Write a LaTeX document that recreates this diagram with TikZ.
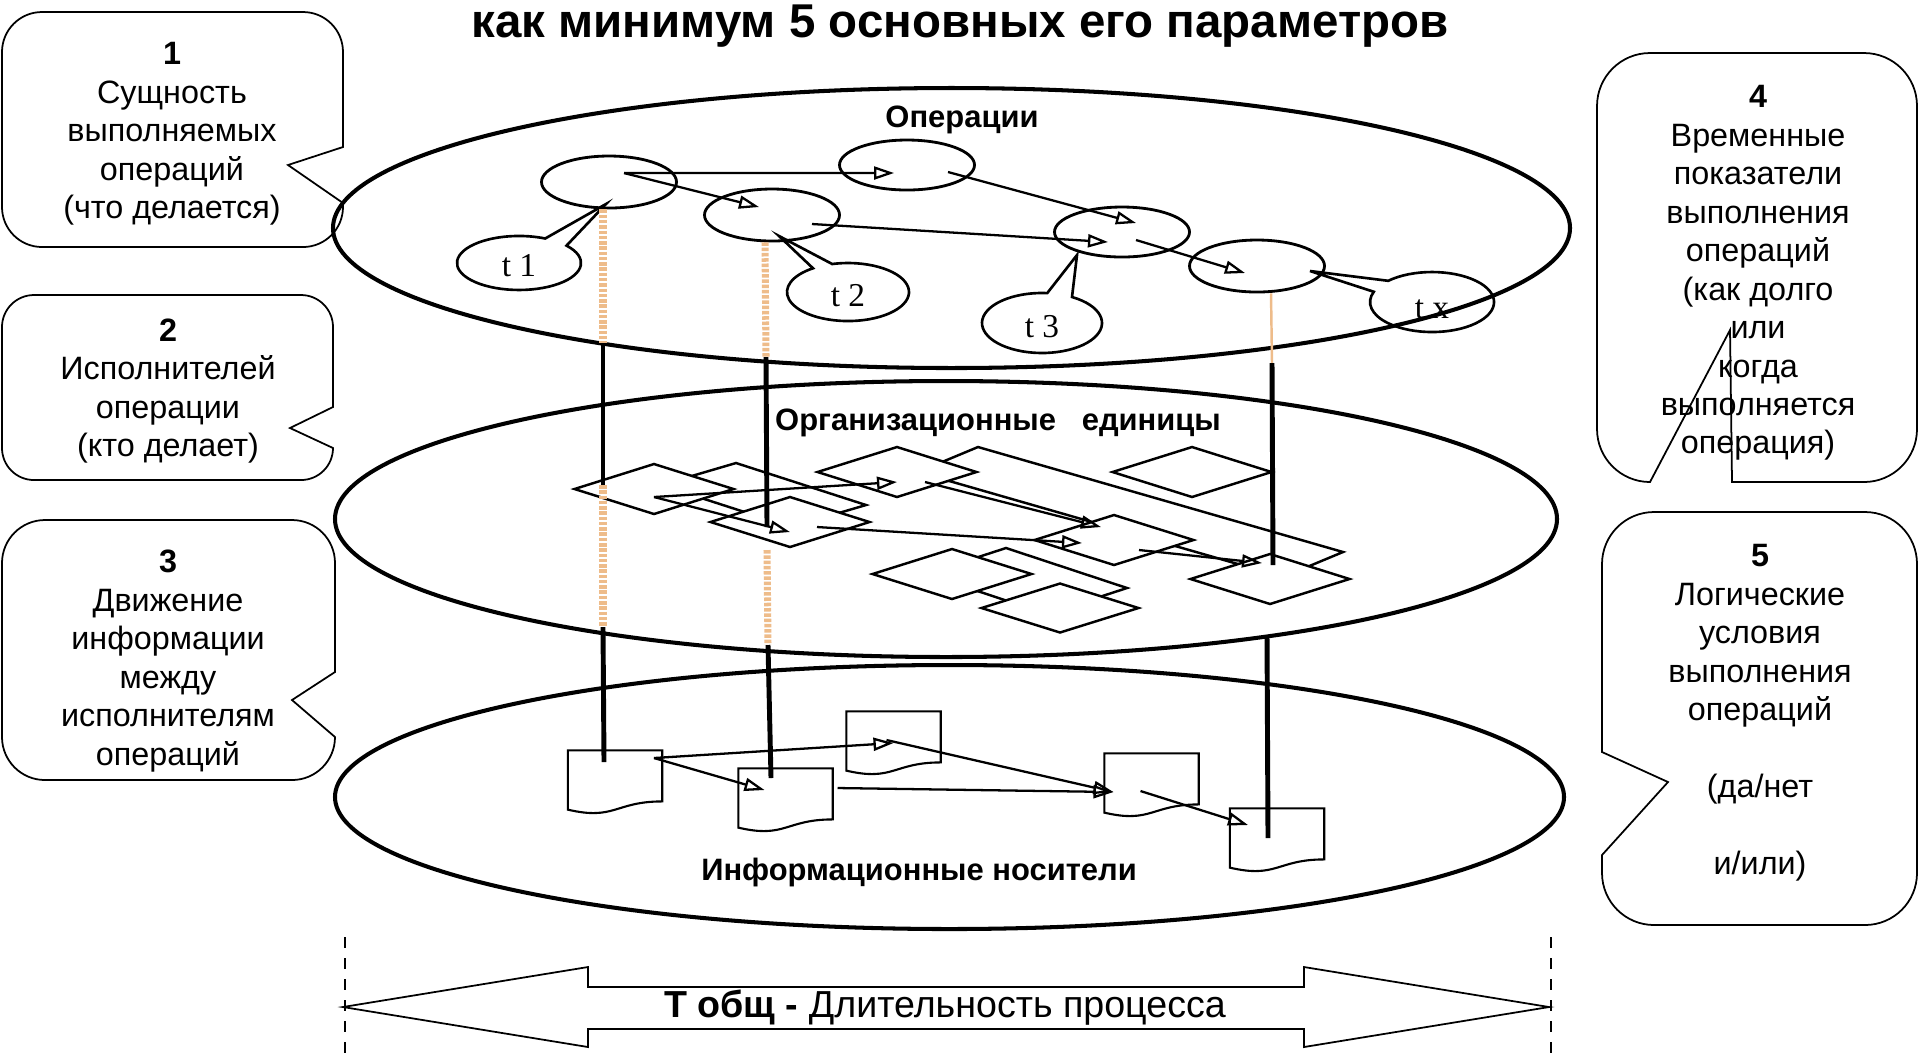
\documentclass[tikz,border=0pt]{standalone}
\usepackage{fontspec}
\setmainfont{Liberation Sans}
\newfontfamily\tfont{Liberation Serif}
\usetikzlibrary{shapes.geometric, arrows.meta}
\definecolor{linkpeach}{RGB}{238,188,138}

\begin{document}
\begin{tikzpicture}[x=1cm, y=-1cm,
    plane/.style={ellipse, draw, line width=1.15pt, inner sep=0pt},
    oper/.style={ellipse, draw, line width=0.8pt, minimum width=1.35cm, minimum height=0.52cm, inner sep=0pt},
    orgunit/.style={diamond, draw, fill=white, line width=0.7pt, minimum width=1.6cm, minimum height=0.51cm, inner sep=0pt},
    sheet/.style={draw=none, minimum width=0.93cm, minimum height=0.62cm, inner sep=0pt},
    cbox/.style={draw, line width=0.5pt},
    tcall/.style={draw, line width=0.75pt},
    flow/.style={-{Triangle[open, length=0.2cm, width=0.13cm]}, line width=0.65pt},
    tie/.style={line width=1.4pt},
    tieweak/.style={linkpeach, line width=2pt, dash pattern=on 1pt off 0.5pt},
    boxtext/.style={align=center, font=\fontsize{9.2}{10.95}\selectfont},
    laylabel/.style={anchor=base, font=\fontsize{8.8}{10}\selectfont\bfseries},
    tlabel/.style={font=\fontsize{9.5}{11}\selectfont\tfont}
]
\useasboundingbox (0,0) rectangle (19.2,10.58);
\clip (0,0) rectangle (19.2,10.58);

% title
\node[anchor=base, font=\fontsize{13.5}{16}\selectfont\bfseries] (title) at (9.60,0.37)
    {как минимум 5 основных его параметров};

% the three planes
\node[plane, minimum width=12.37cm, minimum height=2.80cm] (lay1) at (9.515,2.28) {};
\node[plane, minimum width=12.22cm, minimum height=2.76cm] (lay2) at (9.46,5.19) {};
\node[plane, minimum width=12.29cm, minimum height=2.64cm] (lay3) at (9.495,7.97) {};

% organisational units (back ones first)
\draw[fill=white, line width=0.7pt] (9.78,4.47) -- (13.43,5.52) -- (12.83,5.77) -- (9.18,4.72) -- cycle;
\draw[fill=white, line width=0.7pt] (7.36,4.63) -- (8.66,5.05) -- (7.91,5.27) -- (6.61,4.85) -- cycle;
\draw[fill=white, line width=0.7pt] (10.06,5.48) -- (11.27,5.88) -- (10.47,6.14) -- (9.26,5.74) -- cycle;
\node[orgunit] (ou1) at (6.54,4.89) {};
\node[orgunit] (ou3) at (7.90,5.22) {};
\node[orgunit] (ouD) at (8.97,4.72) {};
\node[orgunit] (ouG) at (11.92,4.72) {};
\node[orgunit] (ouH) at (11.14,5.40) {};
\node[orgunit] (ouF) at (12.70,5.79) {};
\node[orgunit] (ouJ) at (9.52,5.74) {};
\node[orgunit, minimum width=1.58cm, minimum height=0.50cm] (ouM) at (10.60,6.08) {};

% information carriers
\node[sheet] (d1) at (6.15,7.82) {};
\node[sheet] (d2) at (7.855,8.00) {};
\node[sheet] (d3) at (8.935,7.43) {};
\node[sheet] (d4) at (11.515,7.85) {};
\node[sheet] (d5) at (12.77,8.40) {};
\foreach \d in {d1,d2,d3,d4,d5}
  \draw[line width=0.6pt] (\d.north west) -- (\d.north east) -- ([yshift=0.123cm]\d.south east)
    .. controls ([yshift=0.123cm]\d.south) and ([yshift=-0.07cm]\d.south) .. ([yshift=0.041cm]\d.south west) -- cycle;

% operations
\node[oper] (op1) at (6.09,1.82) {};
\node[oper, minimum height=0.50cm] (op2) at (9.07,1.65) {};
\node[oper] (op3) at (7.72,2.15) {};
\node[oper, minimum height=0.50cm] (op4) at (11.22,2.32) {};
\node[oper] (op5) at (12.57,2.66) {};

% time callouts
\draw[tcall] (5.665,2.456) arc[start angle=-40, end angle=295, x radius=0.62, y radius=0.27] -- (6.06,2.04) -- cycle;
\draw[tcall] (8.322,2.640) arc[start angle=255, end angle=595, x radius=0.61, y radius=0.29] -- (7.79,2.36) -- cycle;
\draw[tcall] (10.72,2.970) arc[start angle=300, end angle=635, x radius=0.60, y radius=0.30] -- (10.77,2.55) -- cycle;
\draw[tcall] (13.882,2.808) arc[start angle=225, end angle=560, x radius=0.62, y radius=0.30] -- (13.10,2.71) -- cycle;
\node[tlabel] (t1) at (5.19,2.66) {t 1};
\node[tlabel] (t2) at (8.48,2.96) {t 2};
\node[tlabel] (t3) at (10.42,3.27) {t 3};
\node[tlabel] (tx) at (14.32,3.09) {t x};

% flows between operations
\draw[flow] ([xshift=0.15cm,yshift=0.09cm]op1.center) -- ([xshift=-0.13cm,yshift=-0.08cm]op2.center);
\draw[flow] ([xshift=0.15cm,yshift=0.09cm]op1.center) -- ([xshift=-0.13cm,yshift=0.08cm]op3.center);
\draw[flow] ([xshift=0.40cm,yshift=-0.09cm]op3.center) -- ([xshift=-0.14cm,yshift=-0.10cm]op4.center);
\draw[flow] ([xshift=0.41cm,yshift=-0.07cm]op2.center) -- ([xshift=0.14cm,yshift=0.09cm]op4.center);
\draw[flow] ([xshift=0.14cm,yshift=-0.08cm]op4.center) -- ([xshift=-0.12cm,yshift=-0.07cm]op5.center);

% flows between units
\draw[flow] ([yshift=-0.08cm]ou1.center) -- ([yshift=-0.10cm]ouD.center);
\draw[flow] ([yshift=-0.08cm]ou1.center) -- ([yshift=-0.10cm]ou3.center);
\draw[flow] ([xshift=0.28cm,yshift=-0.10cm]ouD.center) -- ([xshift=-0.13cm,yshift=0.13cm]ouH.center);
\draw[flow] ([xshift=0.27cm,yshift=-0.05cm]ou3.center) -- ([xshift=-0.32cm,yshift=-0.03cm]ouH.center);
\draw[flow] ([xshift=0.25cm,yshift=-0.10cm]ouH.center) -- ([xshift=-0.08cm,yshift=0.16cm]ouF.center);

% flows between documents
\draw[flow] ([xshift=0.39cm,yshift=0.24cm]d1.center) -- (d3.center);
\draw[flow] ([xshift=0.39cm,yshift=0.24cm]d1.center) -- ([xshift=-0.21cm,yshift=0.10cm]d2.center);
\draw[flow] ([xshift=-0.07cm,yshift=0.03cm]d3.center) -- ([xshift=-0.38cm,yshift=-0.07cm]d4.center);
\draw[flow] ([xshift=0.52cm,yshift=0.12cm]d2.center) -- ([xshift=-0.38cm,yshift=-0.07cm]d4.center);
\draw[flow] ([xshift=-0.11cm,yshift=-0.06cm]d4.center) -- ([xshift=-0.29cm,yshift=0.15cm]d5.center);

% links through the planes
\coordinate (k1a) at (6.03,3.43);
\coordinate (k1b) at (6.03,4.85);
\coordinate (k1c) at (6.03,6.27);
\draw[tieweak] ([xshift=-0.06cm]op1.south) -- (k1a);
\draw[tie] (k1a) -- (k1b);
\draw[tieweak] (k1b) -- (k1c);
\draw[tie] (k1c) -- ([xshift=-0.11cm,yshift=0.2cm]d1.center);

\coordinate (k2a) at (7.66,3.57);
\coordinate (k2b) at (7.67,5.50);
\coordinate (k2c) at (7.68,6.45);
\draw[tieweak] ([xshift=-0.07cm]op3.south) -- (k2a);
\draw[tie] (k2a) -- ([xshift=-0.23cm,yshift=-0.05cm]ou3.center);
\draw[tieweak] (k2b) -- (k2c);
\draw[tie] (k2c) -- ([xshift=-0.145cm,yshift=0.22cm]d2.center);

\coordinate (k3a) at (12.72,3.63);
\coordinate (k3b) at (12.67,6.35);
\draw[linkpeach, line width=0.7pt] ([xshift=0.14cm]op5.south) -- (k3a);
\draw[tie] (k3a) -- ([xshift=0.03cm,yshift=0.14cm]ouF.center);
\draw[tie] (k3b) -- ([xshift=-0.09cm,yshift=0.02cm]d5.center);

% plane labels
\node[laylabel] (lab1) at (9.62,1.27) {Операции};
\node[laylabel] (lab2) at (9.98,4.30) {Организационные\ \ \ единицы};
\node[laylabel] (lab3) at (9.19,8.80) {Информационные носители};

% parameter boxes
\draw[cbox] (3.43,2.03) -- (3.43,2.07) arc[start angle=0, end angle=90, radius=0.40] -- (0.42,2.47)
    arc[start angle=90, end angle=180, radius=0.40] -- (0.02,0.52)
    arc[start angle=180, end angle=270, radius=0.40] -- (3.03,0.12)
    arc[start angle=270, end angle=360, radius=0.40] -- (3.43,1.47) -- (2.88,1.65) -- cycle;
\node[boxtext] (p1) at (1.72,1.34) {\textbf{1}\\Сущность\\выполняемых\\операций\\(что делается)};

\draw[cbox] (3.33,4.48) arc[start angle=0, end angle=90, radius=0.32] -- (0.34,4.80)
    arc[start angle=90, end angle=180, radius=0.32] -- (0.02,3.27)
    arc[start angle=180, end angle=270, radius=0.32] -- (3.01,2.95)
    arc[start angle=270, end angle=360, radius=0.32] -- (3.33,4.07) -- (2.90,4.28) -- cycle;
\node[boxtext] (p2) at (1.68,3.91) {\textbf{2}\\Исполнителей\\операции\\(кто делает)};

\draw[cbox] (3.35,7.37) arc[start angle=0, end angle=90, radius=0.43] -- (0.45,7.80)
    arc[start angle=90, end angle=180, radius=0.43] -- (0.02,5.63)
    arc[start angle=180, end angle=270, radius=0.43] -- (2.92,5.20)
    arc[start angle=270, end angle=360, radius=0.43] -- (3.35,6.72) -- (2.92,7.00) -- cycle;
\node[boxtext] (p3) at (1.68,6.61) {\textbf{3}\\Движение\\информации\\между\\исполнителям\\операций};

\draw[cbox] (17.32,4.82) -- (18.64,4.82) arc[start angle=90, end angle=0, radius=0.53] -- (19.17,1.06)
    arc[start angle=0, end angle=-90, radius=0.53] -- (16.50,0.53)
    arc[start angle=-90, end angle=-180, radius=0.53] -- (15.97,4.29)
    arc[start angle=180, end angle=90, radius=0.53] -- (17.30,3.30) -- cycle;
\node[boxtext] (p4) at (17.58,2.73) {\textbf{4}\\Временные\\показатели\\выполнения\\операций\\(как долго\\или\\когда\\выполняется\\операция)};

\draw[cbox] (16.02,8.55) -- (16.02,8.73) arc[start angle=180, end angle=90, radius=0.52] -- (18.65,9.25)
    arc[start angle=90, end angle=0, radius=0.52] -- (19.17,5.64)
    arc[start angle=0, end angle=-90, radius=0.52] -- (16.54,5.12)
    arc[start angle=-90, end angle=-180, radius=0.52] -- (16.02,7.52) -- (16.68,7.82) -- cycle;
\node[boxtext] (p5) at (17.60,7.13) {\textbf{5}\\Логические\\условия\\выполнения\\операций\\[\baselineskip](да/нет\\[\baselineskip]и/или)};

% total duration
\draw[dashed, line width=0.5pt] (3.45,9.37) -- (3.45,10.58);
\draw[dashed, line width=0.5pt] (15.51,9.37) -- (15.51,10.58);
\draw[line width=0.5pt] (3.43,10.07) -- (5.88,9.67) -- (5.88,9.87) -- (13.04,9.87) -- (13.04,9.67) -- (15.49,10.07)
    -- (13.04,10.47) -- (13.04,10.29) -- (5.88,10.29) -- (5.88,10.47) -- cycle;
\node[font=\fontsize{10.7}{12}\selectfont] (tot) at (9.45,10.08) {\textbf{Т общ -} Длительность процесса};

\end{tikzpicture}
\end{document}
